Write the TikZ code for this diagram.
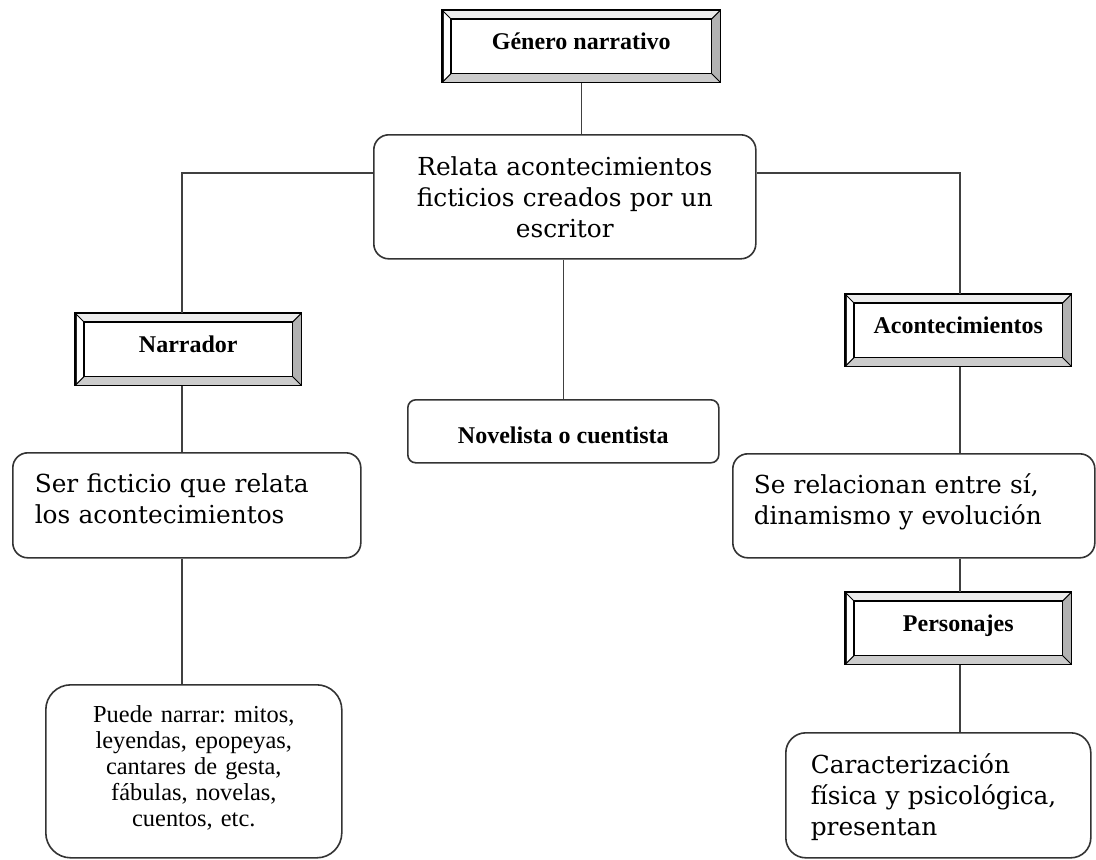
\documentclass[tikz,border=0pt]{standalone}
\usepackage{fontspec}
\setmainfont{Liberation Serif}
\newfontfamily\bookfont{DejaVu Serif}
\usepackage{tikz}
\frenchspacing

\begin{document}
\begin{tikzpicture}[x=0.5pt, y=-0.5pt]
\tikzstyle{bevel} = [draw=black!85, line width=0.8pt, anchor=north west, inner sep=0pt, text height=19.5pt, text depth=16pt, minimum width=112.5pt, font=\fontsize{12}{14}\selectfont\bfseries]
\tikzstyle{rbox} = [draw=black!80, line width=0.8pt, anchor=north west, inner ysep=0pt, rounded corners=7.5pt, font=\bookfont\fontsize{12.4}{15.3}\selectfont]
\tikzstyle{link} = [draw=black!75, line width=0.8pt]

\useasboundingbox[fill=white] (0,0) rectangle (1096,859);

% top
\node[bevel, minimum width=138.5pt] (gen) at (442,10) {Género narrativo};
\node[rbox, align=center, text width=170pt, inner xsep=10.5pt, text height=20.5pt, text depth=41.5pt] (relata) at (373,134) {Relata acontecimientos\\ficticios creados por un\\escritor};
\node[rbox, rounded corners=4pt, minimum width=155.5pt, text height=22pt, text depth=9.5pt, font=\fontsize{12}{14}\selectfont\bfseries] (novel) at (407,399) {Novelista o cuentista};

% left branch
\node[bevel] (narr) at (75,313) {Narrador};
\node[rbox, align=left, text width=152pt, inner xsep=11pt, text height=20pt, text depth=32.5pt] (ser) at (12,452) {Ser ficticio que relata\\los acontecimientos};
\node[rbox, rounded corners=12.5pt, align=center, text width=130pt, inner xsep=9pt, text height=19pt, text depth=67.5pt, font=\fontsize{12.2}{12.9}\selectfont] (puede) at (45,684) {Puede narrar: mitos,\\leyendas, epopeyas,\\cantares de gesta,\\fábulas, novelas,\\cuentos, etc.};

% right branch
\node[bevel] (acon) at (845,294) {Acontecimientos};
\node[rbox, align=left, text width=160pt, inner xsep=10.5pt, text height=20pt, text depth=32pt] (se) at (732,453) {Se relacionan entre sí,\\dinamismo y evolución};
\node[bevel] (pers) at (845,592) {Personajes};
\node[rbox, rounded corners=10pt, align=left, text width=127.5pt, inner xsep=12.5pt, text height=20.5pt, text depth=42pt] (carac) at (785,732) {Caracterización\\física y psicológica,\\presentan};

% bevel frames
\foreach \n in {gen, narr, acon, pers} {
  \fill[gray!15] (\n.north west) -- (\n.north east) -- ([shift={(-4.5pt,-4.5pt)}]\n.north east) -- ([shift={(4.5pt,-4.5pt)}]\n.north west) -- cycle;
  \fill[gray!40] (\n.south west) -- (\n.south east) -- ([shift={(-4.5pt,4.5pt)}]\n.south east) -- ([shift={(4.5pt,4.5pt)}]\n.south west) -- cycle;
  \fill[gray!60] (\n.north east) -- (\n.south east) -- ([shift={(-4.5pt,4.5pt)}]\n.south east) -- ([shift={(-4.5pt,-4.5pt)}]\n.north east) -- cycle;
  \draw[line width=0.8pt] (\n.north west) rectangle (\n.south east);
  \draw[line width=0.8pt] ([shift={(4.5pt,-4.5pt)}]\n.north west) rectangle ([shift={(-4.5pt,4.5pt)}]\n.south east);
  \draw[line width=0.5pt] (\n.north west) -- ++(4.5pt,-4.5pt) (\n.north east) -- ++(-4.5pt,-4.5pt)
    (\n.south west) -- ++(4.5pt,4.5pt) (\n.south east) -- ++(-4.5pt,4.5pt);
}

% connectors
\coordinate (lt) at (182,0);
\coordinate (rt) at (960,0);
\draw[link] (gen.south) -- (gen.south |- relata.north);
\draw[link] ([yshift=1.5pt]relata.base west) -| (lt |- narr.north);
\draw[link] ([yshift=1.5pt]relata.base east) -| (rt |- acon.north);
\draw[link] (relata.south -| novel.north) -- (novel.north);
\draw[link] (lt |- narr.south) -- (lt |- ser.north);
\draw[link] (lt |- ser.south) -- (lt |- puede.north);
\draw[link] (rt |- acon.south) -- (rt |- se.north);
\draw[link] (rt |- se.south) -- (rt |- pers.north);
\draw[link] (rt |- pers.south) -- (rt |- carac.north);
\end{tikzpicture}
\end{document}
